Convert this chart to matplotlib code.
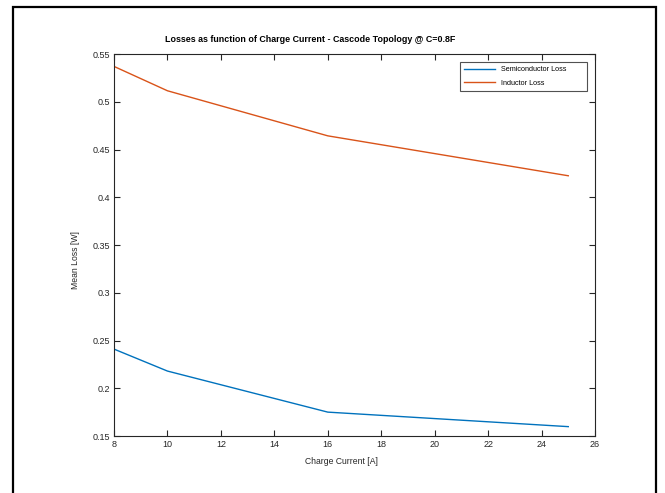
import matplotlib
matplotlib.use("Agg")
import matplotlib.pyplot as plt
from matplotlib.patches import Rectangle

charge_current = [8, 10, 16, 25]
semiconductor_loss = [0.241, 0.218, 0.175, 0.1598]
inductor_loss = [0.537, 0.5115, 0.4643, 0.4225]
x_ticks = [8, 10, 12, 14, 16, 18, 20, 22, 24, 26]
y_ticks = [0.15, 0.2, 0.25, 0.3, 0.35, 0.4, 0.45, 0.5, 0.55]
y_tick_labels = ["0.15", "0.2", "0.25", "0.3", "0.35", "0.4", "0.45", "0.5", "0.55"]

plt.rcParams['font.family'] = ['Liberation Sans', 'DejaVu Sans']
grey = '#262626'
W, H = 665, 493

fig = plt.figure(figsize=(6.65, 4.93), dpi=100)
fig.patch.set_facecolor('white')

# outer frame
fig.patches.append(Rectangle((13/W, -0.05), (656-13)/W, 1 - 7/H + 0.05,
                             transform=fig.transFigure, fill=False,
                             edgecolor='black', linewidth=1.6))

ax = fig.add_axes([114/W, 1 - 436/H, (595-114)/W, (436-54)/H])
ax.plot(charge_current, semiconductor_loss, color='#0072BD', lw=1.0, label='Semiconductor Loss')
ax.plot(charge_current, inductor_loss, color='#D95319', lw=1.0, label='Inductor Loss')

ax.set_xlim(8, 26)
ax.set_ylim(0.15, 0.55)
ax.set_xticks(x_ticks)
ax.set_yticks(y_ticks)
ax.set_yticklabels(y_tick_labels)
ax.tick_params(direction='in', top=True, right=True, labelsize=6.5,
               colors=grey, length=4, width=0.8, pad=3)
for s in ax.spines.values():
    s.set_color(grey)
    s.set_linewidth(0.8)

fig.text(310/W, 1 - 40/H, 'Losses as function of Charge Current - Cascode Topology @ C=0.8F',
         fontsize=6.4, fontweight='bold', ha='center', va='center', color='black')
fig.text(341/W, 1 - 461/H, 'Charge Current [A]', fontsize=6.2, color=grey,
         ha='center', va='center')
fig.text(75/W, 1 - 260/H, 'Mean Loss [W]', fontsize=6.2, color=grey,
         ha='center', va='center', rotation=90)

leg = ax.legend(loc='upper left', bbox_to_anchor=(460/W, 1 - 91/H, 127/W, 29/H),
                bbox_transform=fig.transFigure, mode='expand', fontsize=5.2,
                frameon=True, fancybox=False, handlelength=4.3, borderpad=0.55,
                labelspacing=0.9, handletextpad=0.8, borderaxespad=0)
leg.get_frame().set_edgecolor(grey)
leg.get_frame().set_linewidth(0.8)

fig.savefig('out.png', dpi=100)
